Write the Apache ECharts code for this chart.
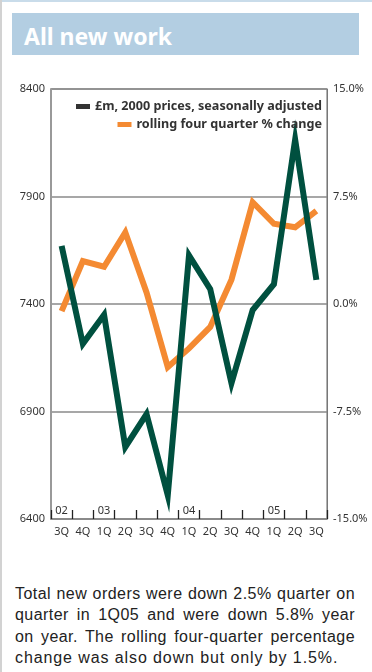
<!DOCTYPE html>
<html>
<head>
<meta charset="utf-8">
<script src="https://cdn.jsdelivr.net/npm/echarts@6/dist/echarts.min.js"></script>
<style>
  html, body { margin:0; padding:0; background:#fff; }
  #page { position:relative; width:372px; height:672px; overflow:hidden; background:#fff; }
  #topline { position:absolute; left:0; top:0; width:372px; height:2px; background:#c9dcea; }
  #leftline { position:absolute; left:0; top:0; width:2px; height:672px; background:#d2d2d2; }
  #band { position:absolute; left:12px; top:13px; width:347px; height:42px; background:#b3cee2; }
  #title { position:absolute; left:24px; top:21px; font-family:"Noto Sans", sans-serif; font-weight:700; font-size:23px; color:#fff; line-height:30px; white-space:nowrap; }
  #chart { position:absolute; left:0; top:60px; width:372px; height:490px; }
  #note { position:absolute; left:15px; top:583px; width:340px; font-family:"Liberation Sans", Arial, sans-serif; font-size:16px; line-height:21.4px; color:#222; }
  #note .j { display:block; white-space:nowrap; text-align:justify; text-align-last:justify; letter-spacing:0.45px; }
  #note .last { display:block; white-space:nowrap; letter-spacing:0.9px; }
</style>
</head>
<body>
<div id="page">
  <div id="topline"></div>
  <div id="leftline"></div>
  <div id="band"></div>
  <div id="title">All new work</div>
  <div id="chart"></div>
  <div id="note"><span class="j">Total new orders were down 2.5% quarter on</span><span class="j">quarter in 1Q05 and were down 5.8% year</span><span class="j">on year. The rolling four-quarter percentage</span><span class="last">change was also down but only by 1.5%.</span></div>
</div>
<script>
// ---- data ----
const categories = ['3Q02','4Q02','1Q03','2Q03','3Q03','4Q03','1Q04','2Q04','3Q04','4Q04','1Q05','2Q05','3Q05'];
const quarterLabels = ['3Q','4Q','1Q','2Q','3Q','4Q','1Q','2Q','3Q','4Q','1Q','2Q','3Q'];
const yearLabels = ['02','','03','','','','04','','','','05','',''];
const seriesNames = ['£m, 2000 prices, seasonally adjusted', 'rolling four quarter % change'];
const priceValues = [7670, 7215, 7350, 6735, 6888, 6510, 7626, 7469, 7032, 7372, 7492, 8165, 7512];
const changeValues = [-0.5, 3.0, 2.6, 5.0, 0.8, -4.4, -3.1, -1.6, 1.7, 7.1, 5.6, 5.35, 6.5];
const leftTickLabels = [6400, 6900, 7400, 7900, 8400];
const rightTickLabels = ['-15.0%', '-7.5%', '0.0%', '7.5%', '15.0%'];

const GREEN = '#00503f';
const ORANGE = '#f48a32';
const FONT = '"Noto Sans", sans-serif';

const chart = echarts.init(document.getElementById('chart'));
chart.setOption({
  animation: false,
  grid: { left: 51, top: 29, width: 276, height: 430, show: true, borderColor: '#666', borderWidth: 1, backgroundColor: 'transparent' },
  legend: [
    { data: [{ name: seriesNames[0], itemStyle: { color: '#333' } }], right: 50, top: 40, icon: 'rect', itemWidth: 14, itemHeight: 5,
      textStyle: { fontFamily: FONT, fontWeight: 'bold', fontSize: 12.6, color: '#333' }, padding: 0, selectedMode: false },
    { data: [{ name: seriesNames[1], itemStyle: { color: ORANGE } }], right: 50, top: 58, icon: 'rect', itemWidth: 14, itemHeight: 5,
      textStyle: { fontFamily: FONT, fontWeight: 'bold', fontSize: 12.6, color: '#333' }, padding: 0, selectedMode: false }
  ],
  xAxis: [
    { type: 'category', data: categories, boundaryGap: true, z: 5,
      axisLine: { show: true, onZero: false, lineStyle: { color: '#888', width: 1.5 } },
      axisTick: { show: true, inside: true, length: 9, interval: 0, alignWithLabel: false, lineStyle: { color: '#222', width: 1.3 } },
      axisLabel: { interval: 0, margin: 7, fontFamily: FONT, fontSize: 11, color: '#333', formatter: (v, i) => quarterLabels[i] },
      splitLine: { show: false } },
    { type: 'category', data: categories, boundaryGap: true, position: 'bottom', z: 5,
      axisLine: { show: false, onZero: false },
      axisTick: { show: false },
      axisLabel: { inside: true, interval: 0, margin: 3, fontFamily: FONT, fontSize: 11, color: '#333', formatter: (v, i) => yearLabels[i] },
      splitLine: { show: false } }
  ],
  yAxis: [
    { type: 'value', min: 6400, max: 8400, interval: 100, position: 'left',
      axisLine: { show: true, onZero: false, lineStyle: { color: '#999', width: 2 } },
      axisTick: { show: false },
      axisLabel: { margin: 6, fontFamily: FONT, fontSize: 11, color: '#333',
        formatter: v => leftTickLabels.includes(Math.round(v)) ? String(Math.round(v)) : '' },
      splitLine: { show: false } },
    { type: 'value', min: -15, max: 15, interval: 7.5, position: 'right',
      axisLine: { show: true, onZero: false, lineStyle: { color: '#777', width: 1 } },
      axisTick: { show: false },
      axisLabel: { margin: 6, fontFamily: FONT, fontSize: 11, color: '#333',
        formatter: v => rightTickLabels[Math.round((v + 15) / 7.5)] },
      splitLine: { show: true, lineStyle: { color: '#8a8a8a', width: 1.5 } } }
  ],
  series: [
    { name: seriesNames[1], type: 'line', xAxisIndex: 0, yAxisIndex: 1, data: changeValues,
      showSymbol: false, symbol: 'none', z: 2,
      lineStyle: { color: ORANGE, width: 6, join: 'miter', miterLimit: 30, cap: 'butt' }, itemStyle: { color: ORANGE } },
    { name: seriesNames[0], type: 'line', xAxisIndex: 0, yAxisIndex: 0, data: priceValues,
      showSymbol: false, symbol: 'none', z: 3,
      lineStyle: { color: GREEN, width: 6, join: 'miter', miterLimit: 30, cap: 'butt' }, itemStyle: { color: GREEN } }
  ]
});
</script>
</body>
</html>
